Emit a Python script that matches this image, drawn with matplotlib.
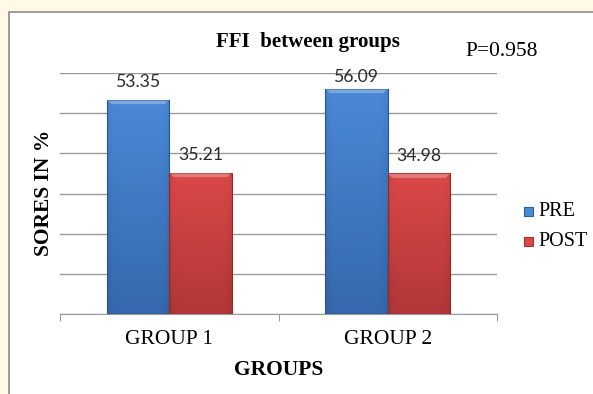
import numpy as np
import matplotlib
matplotlib.use("Agg")
import matplotlib.pyplot as plt
from matplotlib.patches import Rectangle, Polygon
from matplotlib.colors import LinearSegmentedColormap

groups = ["GROUP 1", "GROUP 2"]
series = ["PRE", "POST"]
pre_vals = [53.35, 56.09]
post_vals = [35.21, 34.98]
yticks = [0, 10, 20, 30, 40, 50, 60]

colors = {"PRE": ("#4A89D6", "#2F5E9E"), "POST": ("#DC4848", "#A23232")}
edge = {"PRE": "#2A5690", "POST": "#8E2B2B"}

serif = "Liberation Serif"

fig = plt.figure(figsize=(5.93, 3.94), dpi=100)
fig.patch.set_facecolor("#FFF9E6")
# white chart panel with grey frame
fig.patches.append(Rectangle((9 / 593, -0.05), 1.0, 1 - 12 / 394 + 0.05,
                             transform=fig.transFigure, facecolor="white",
                             edgecolor="#8A8A8A", linewidth=1.2, zorder=-5))

ax = fig.add_axes([60 / 593, 80 / 394, 437 / 593, 241 / 394])
ax.set_facecolor("none")
ax.set_xlim(-0.5, 1.5)
ax.set_ylim(0, 60)
ax.set_yticks(yticks)
ax.yaxis.grid(True, color="#9A9A9A", linewidth=1.0)
ax.set_axisbelow(True)
ax.tick_params(axis="y", left=False, labelleft=False)
for s in ["top", "right", "left"]:
    ax.spines[s].set_visible(False)
ax.spines["bottom"].set_color("#9A9A9A")

x = np.arange(len(groups))
ax.set_xticks([-0.5, 0.5, 1.5], minor=False)
ax.set_xticklabels([])
ax.tick_params(axis="x", length=5, color="#9A9A9A", direction="out")
for xi, g in zip(x, groups):
    ax.text(xi, -6.4, g, ha="center", va="center", fontsize=15.5,
            family=serif, transform=ax.transData)

w = 0.285
offsets = {"PRE": -w / 2, "POST": w / 2}
values = {"PRE": pre_vals, "POST": post_vals}


def gradient_bar(x0, width, h, name):
    top, bottom = colors[name]
    cmap = LinearSegmentedColormap.from_list(name, [bottom, top])
    # vertical gradient, brighter near the top, slightly darker edges
    ny, nx = 64, 32
    yy = np.linspace(0, 1, ny)[:, None]
    xx = np.linspace(-1, 1, nx)[None, :]
    grad = 0.25 + 0.75 * yy - 0.18 * xx ** 8
    grad = np.clip(grad, 0, 1)
    im = ax.imshow(grad, cmap=cmap, vmin=0, vmax=1, origin="lower",
                   extent=(x0, x0 + width, 0, h), aspect="auto", zorder=3,
                   interpolation="bilinear")
    rect = Rectangle((x0, 0), width, h, facecolor="none",
                     edgecolor=edge[name], linewidth=0.8, zorder=4)
    ax.add_patch(rect)
    im.set_clip_path(rect)
    # bevelled top face
    bev = 1.1
    inset = width * 0.07
    poly = Polygon([(x0, h), (x0 + width, h), (x0 + width - inset, h - bev),
                    (x0 + inset, h - bev)], closed=True,
                   facecolor="white", alpha=0.28, edgecolor="none", zorder=4)
    ax.add_patch(poly)


for name in series:
    for xi, v in zip(x, values[name]):
        x0 = xi + offsets[name] - w / 2
        gradient_bar(x0, w, v, name)
        ly = min(v + 4.4, 59.0)
        ax.text(xi + offsets[name], ly, f"{v:.2f}", ha="center", va="center",
                fontsize=12.7, family="Lato", color="#2A2A2A", zorder=5)

fig.text(44 / 593, 1 - 193 / 394, "SORES IN %", rotation=90, ha="center",
         va="center", fontsize=15.5, family=serif, fontweight="bold")
ax.text(0.5, -13.9, "GROUPS", ha="center", va="center", fontsize=15.5,
        family=serif, fontweight="bold", transform=ax.transData)

fig.text(308 / 593, 1 - 42 / 394, "FFI  between groups", ha="center",
         va="center", fontsize=15, family=serif, fontweight="bold")
fig.text(502 / 593, 1 - 52 / 394, "P=0.958", ha="center", va="center",
         fontsize=15.5, family=serif)

# legend
for i, name in enumerate(series):
    yl = 1 - (212 + 30 * i) / 394
    top, bottom = colors[name]
    fig.patches.append(Rectangle((524 / 593, yl - 4.5 / 394), 9 / 593, 9 / 394,
                                 transform=fig.transFigure, facecolor=top,
                                 edgecolor=bottom, linewidth=0.8))
    fig.text(538 / 593, yl, name, ha="left", va="center", fontsize=14.5,
             family=serif)

fig.savefig("out.png", dpi=100, facecolor=fig.get_facecolor())
